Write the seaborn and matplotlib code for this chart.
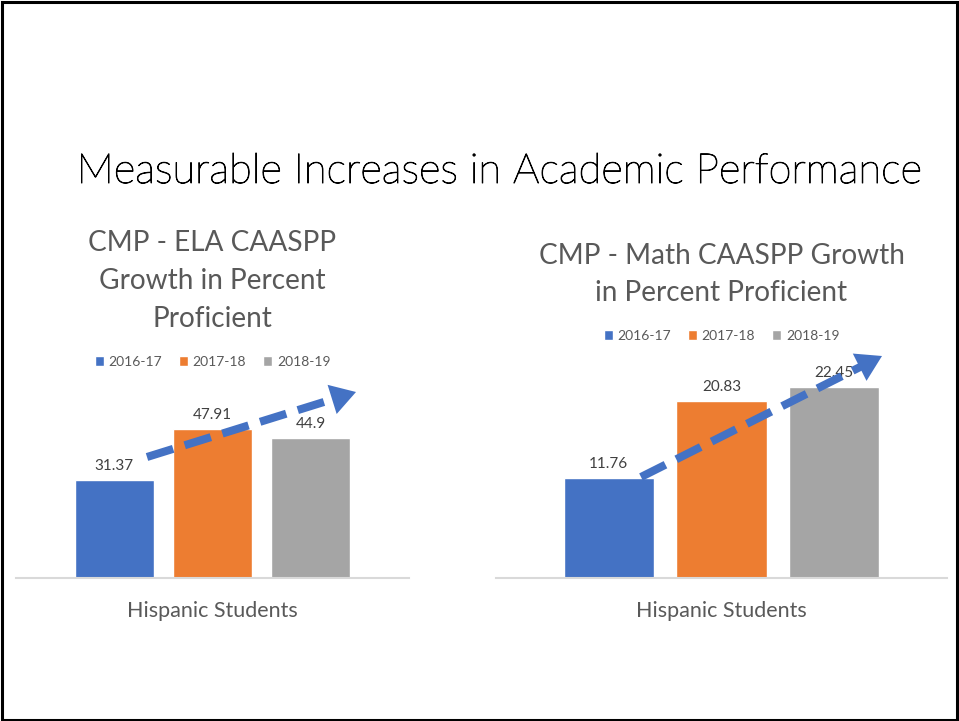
import numpy as np
import pandas as pd
import matplotlib
matplotlib.use("Agg")
import matplotlib.pyplot as plt
import matplotlib.patheffects as pe
import seaborn as sns
from matplotlib.patches import FancyArrowPatch, Rectangle
from matplotlib.lines import Line2D

# data
group = ["Hispanic Students"]
years = ["2016-17", "2017-18", "2018-19"]
ela_values = [31.37, 47.91, 44.9]
math_values = [11.76, 20.83, 22.45]
colors = ["#4472C4", "#ED7D31", "#A5A5A5"]

W, H = 959, 721
sns.set_theme(style="white")
plt.rcParams["font.family"] = ["Lato", "DejaVu Sans"]

fig = plt.figure(figsize=(W / 100, H / 100), dpi=100)


def fx(px):
    return px / W


def fy(py):
    return 1 - py / H


def make_chart(values, left_px, right_px, px_per_unit, subtitle, sub_y, leg_y):
    top_px, base_px = 380, 578
    ax = fig.add_axes([fx(left_px), fy(base_px), fx(right_px - left_px), (base_px - top_px) / H])
    df = pd.DataFrame({"group": group * len(years), "year": years, "value": values})
    sns.barplot(data=df, x="group", y="value", hue="year", palette=colors,
                width=0.75, gap=0.2, ax=ax, legend=True, saturation=1)
    ax.set_ylim(0, (base_px - top_px) / px_per_unit)
    ax.set_xlim(-0.5, 0.5)
    for c in ax.containers:
        ax.bar_label(c, labels=[f"{v:g}" for v in c.datavalues], padding=5,
                     fontsize=11, color="#404040")
    for s in ["top", "left", "right"]:
        ax.spines[s].set_visible(False)
    ax.spines["bottom"].set_color("#D9D9D9")
    ax.spines["bottom"].set_linewidth(1.5)
    ax.set_yticks([])
    ax.set_xlabel("")
    ax.set_ylabel("")
    ax.tick_params(axis="x", length=0, pad=16.5, labelsize=15.5, labelcolor="#595959")
    handles, labels = ax.get_legend_handles_labels()
    ax.get_legend().remove()
    cx = (left_px + right_px) / 2
    fig.legend(handles, labels, loc="center", bbox_to_anchor=(fx(cx), fy(leg_y)),
               ncol=3, frameon=False, fontsize=10, labelcolor="#595959",
               handlelength=0.65, handleheight=0.65, handletextpad=0.35,
               columnspacing=1.2)
    fig.text(fx(cx), fy(sub_y), subtitle, ha="center", va="center", fontsize=20.2,
             color="#595959", linespacing=1.57)
    return ax


make_chart(ela_values, 16, 409, 3.115, "CMP - ELA CAASPP\nGrowth in Percent\nProficient", 281, 362)
make_chart(math_values, 496, 947, 8.52, "CMP - Math CAASPP Growth\nin Percent Proficient", 274.5, 336)

fig.text(fx(499), fy(172), "Measurable Increases in Academic Performance",
         ha="center", va="center", fontsize=30, color="#000000", fontweight="light",
         path_effects=[pe.withStroke(linewidth=0.7, foreground="#000000")])


def dashed_arrow(x0, y0, x1, y1):
    blue = "#4472C4"
    d = np.array([x1 - x0, y1 - y0], dtype=float)
    u = d / np.hypot(*d)
    hl = 24
    bx, by = x1 - u[0] * hl, y1 - u[1] * hl
    fig.add_artist(Line2D([fx(x0), fx(bx)], [fy(y0), fy(by)], transform=fig.transFigure,
                          color=blue, lw=5.8, linestyle=(0, (3.4, 1.5)),
                          solid_capstyle="butt", dash_capstyle="butt"))
    fig.add_artist(FancyArrowPatch((fx(bx - u[0] * 2), fy(by - u[1] * 2)), (fx(x1), fy(y1)),
                                   transform=fig.transFigure,
                                   arrowstyle="-|>,head_length=0.9,head_width=0.55",
                                   mutation_scale=20, lw=0, color=blue,
                                   shrinkA=0, shrinkB=0))


dashed_arrow(147, 457, 356, 392)
dashed_arrow(641, 477, 882, 356)

fig.add_artist(Rectangle((fx(1.5), fy(719.5)), fx(955.5), (718) / H, transform=fig.transFigure,
                         fill=False, edgecolor="black", lw=2.2))

fig.savefig("out.png", dpi=100)
